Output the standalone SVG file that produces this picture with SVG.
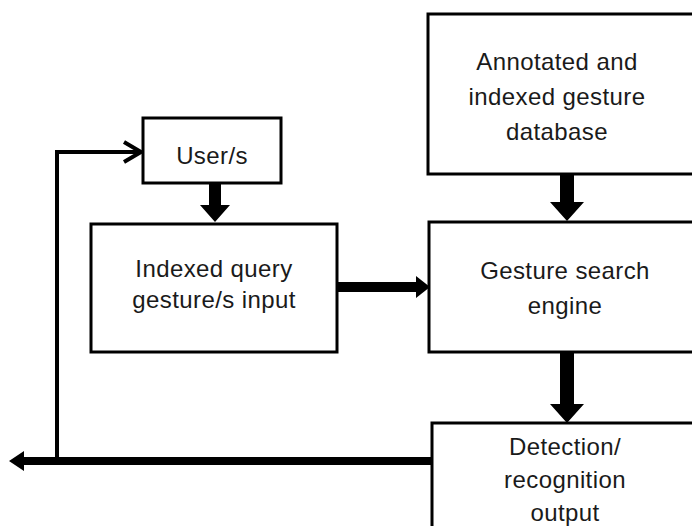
<svg xmlns="http://www.w3.org/2000/svg" width="692" height="526" viewBox="0 0 692 526">
  <style>
    .box { fill: #ffffff; stroke: #000000; stroke-width: 3; }
    .label { font-family: "Liberation Sans", Arial, sans-serif; font-size: 24px; letter-spacing: 0.4px; fill: #1a1a1a; text-anchor: middle; }
    .arrow { fill: #000000; stroke: none; }
    .line { fill: none; stroke: #000000; stroke-width: 4; }
  </style>
  <rect width="692" height="526" fill="#ffffff"/>

  <!-- connectors -->
  <g id="connectors">
    <!-- user -> indexed query -->
    <path class="arrow" d="M209,183 H221 V205 H230 L215,222 L200,205 H209 Z"/>
    <!-- indexed query -> search engine -->
    <path class="arrow" d="M337,282 H416 V276 L430,287 L416,298 V292 H337 Z"/>
    <!-- database -> search engine -->
    <path class="arrow" d="M560,174 H574 V202 H584 L567,221 L550,202 H560 Z"/>
    <!-- search engine -> output -->
    <path class="arrow" d="M560,352 H574 V404 H584 L567,423 L550,404 H560 Z"/>
    <!-- output -> off-page, with feedback to user -->
    <path class="arrow" d="M432,457 H24 V451 L9,461 L24,471 V465 H432 Z"/>
    <path class="line" d="M57,461 V152 H140"/>
    <path class="line" d="M124,142 L141,152 L124,162"/>
  </g>

  <g id="node-database">
    <rect class="box" x="428" y="14" width="272" height="160"/>
    <text class="label" x="557" y="70">Annotated and</text>
    <text class="label" x="557" y="105">indexed gesture</text>
    <text class="label" x="557" y="140">database</text>
  </g>

  <g id="node-user">
    <rect class="box" x="143" y="118" width="138" height="65"/>
    <text class="label" x="212" y="164">User/s</text>
  </g>

  <g id="node-query">
    <rect class="box" x="91" y="224" width="246" height="128"/>
    <text class="label" x="214" y="277">Indexed query</text>
    <text class="label" x="214" y="308">gesture/s input</text>
  </g>

  <g id="node-search">
    <rect class="box" x="429" y="222" width="271" height="130"/>
    <text class="label" x="565" y="279">Gesture search</text>
    <text class="label" x="565" y="314">engine</text>
  </g>

  <g id="node-output">
    <rect class="box" x="432" y="423" width="268" height="110"/>
    <text class="label" x="565" y="455">Detection/</text>
    <text class="label" x="565" y="488">recognition</text>
    <text class="label" x="565" y="521">output</text>
  </g>
</svg>
